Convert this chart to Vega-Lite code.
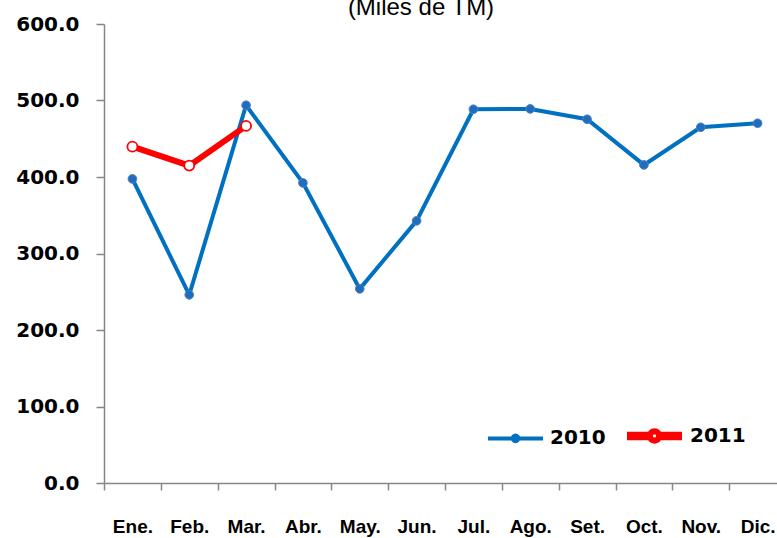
{
  "$schema": "https://vega.github.io/schema/vega-lite/v6.json",
  "width": 682,
  "height": 459,
  "autosize": {"type": "none"},
  "padding": {"left": 104, "top": 24, "right": -9, "bottom": 55},
  "background": "white",
  "title": {
    "text": "(Miles de TM)",
    "anchor": "middle",
    "frame": "group",
    "dx": -24,
    "offset": -25,
    "baseline": "alphabetic",
    "font": "Liberation Sans",
    "fontSize": 24,
    "fontWeight": "normal",
    "color": "#000000"
  },
  "config": {
    "view": {"stroke": null},
    "axis": {"grid": false, "domainColor": "#868686", "tickColor": "#868686", "domainWidth": 1.5, "tickWidth": 1.5}
  },
  "data": {
    "values": [
      {"mes": "Ene.", "anio": "2010", "valor": 397.5},
      {"mes": "Feb.", "anio": "2010", "valor": 246},
      {"mes": "Mar.", "anio": "2010", "valor": 493.8},
      {"mes": "Abr.", "anio": "2010", "valor": 392.3},
      {"mes": "May.", "anio": "2010", "valor": 253.8},
      {"mes": "Jun.", "anio": "2010", "valor": 342.7},
      {"mes": "Jul.", "anio": "2010", "valor": 488.6},
      {"mes": "Ago.", "anio": "2010", "valor": 489},
      {"mes": "Set.", "anio": "2010", "valor": 475.5},
      {"mes": "Oct.", "anio": "2010", "valor": 415.8},
      {"mes": "Nov.", "anio": "2010", "valor": 465},
      {"mes": "Dic.", "anio": "2010", "valor": 470.3},
      {"mes": "Ene.", "anio": "2011", "valor": 439.7},
      {"mes": "Feb.", "anio": "2011", "valor": 414.9},
      {"mes": "Mar.", "anio": "2011", "valor": 466.8}
    ]
  },
  "encoding": {
    "x": {
      "field": "mes",
      "type": "nominal",
      "sort": ["Ene.", "Feb.", "Mar.", "Abr.", "May.", "Jun.", "Jul.", "Ago.", "Set.", "Oct.", "Nov.", "Dic."],
      "scale": {"paddingInner": 0, "paddingOuter": 0},
      "axis": {
        "title": null,
        "labelAngle": 0,
        "tickBand": "extent",
        "tickSize": 7,
        "labelPadding": 27,
        "labelFont": "Liberation Sans",
        "labelFontSize": 19,
        "labelFontWeight": "bold",
        "labelColor": "#000000",
        "labelBaseline": "top"
      }
    },
    "y": {
      "field": "valor",
      "type": "quantitative",
      "scale": {"domain": [0, 600], "nice": false, "zero": true},
      "axis": {
        "title": null,
        "values": [0, 100, 200, 300, 400, 500, 600],
        "format": ".1f",
        "tickSize": 8,
        "labelPadding": 17,
        "labelFont": "DejaVu Sans",
        "labelFontSize": 20,
        "labelFontWeight": "bold",
        "labelColor": "#000000"
      }
    }
  },
  "layer": [
    {
      "mark": {"type": "line"},
      "encoding": {
        "color": {
          "field": "anio",
          "type": "nominal",
          "scale": {"domain": ["2010", "2011"], "range": ["#0070C0", "#FF0000"]},
          "legend": {
            "title": null,
            "orient": "none",
            "direction": "horizontal",
            "legendX": 382,
            "legendY": 381,
            "symbolSize": 3025,
            "symbolStrokeWidth": 3.5,
            "labelFont": "DejaVu Sans",
            "labelFontSize": 20,
            "labelFontWeight": "bold",
            "labelColor": "#000000",
            "labelOffset": 5,
            "columnPadding": 9,
            "gridAlign": "each",
            "encode": {
              "symbols": {
                "update": {
                  "shape": {"signal": "datum.value === '2010' ? 'M-1,0L1,0M0.1,0L0.0924,0.0383L0.0707,0.0707L0.0383,0.0924L0,0.1L-0.0383,0.0924L-0.0707,0.0707L-0.0924,0.0383L-0.1,0L-0.0924,-0.0383L-0.0707,-0.0707L-0.0383,-0.0924L0,-0.1L0.0383,-0.0924L0.0707,-0.0707L0.0924,-0.0383Z' : 'M-1,-0.045L-0.19,-0.045M-1,0L-0.19,0M-1,0.045L-0.19,0.045M0.19,-0.045L1,-0.045M0.19,0L1,0M0.19,0.045L1,0.045M0.17,0L0.1571,0.0651L0.1202,0.1202L0.0651,0.1571L0,0.17L-0.0651,0.1571L-0.1202,0.1202L-0.1571,0.0651L-0.17,0L-0.1571,-0.0651L-0.1202,-0.1202L-0.0651,-0.1571L0,-0.17L0.0651,-0.1571L0.1202,-0.1202L0.1571,-0.0651Z'"},
                  "fill": {"signal": "datum.value === '2010' ? '#1F6DBF' : '#FFFFFF'"},
                  "stroke": {"signal": "datum.value === '2010' ? '#0070C0' : '#FF0000'"},
                  "strokeWidth": {"signal": "datum.value === '2010' ? 4 : 2.5"},
                  "fillOpacity": {"value": 1},
                  "opacity": {"value": 1}
                }
              }
            }
          }
        },
        "strokeWidth": {
          "field": "anio",
          "type": "nominal",
          "scale": {"domain": ["2010", "2011"], "range": [4, 6]},
          "legend": null
        }
      }
    },
    {
      "transform": [{"filter": "datum.anio === '2010'"}],
      "mark": {"type": "point", "shape": "circle", "filled": true, "fill": "#1F6DBF", "stroke": "#4F81BD", "strokeWidth": 1, "size": 75, "opacity": 1}
    },
    {
      "transform": [{"filter": "datum.anio === '2011'"}],
      "mark": {"type": "point", "shape": "circle", "filled": true, "fill": "#FFFFFF", "stroke": "#FF0000", "strokeWidth": 1.8, "size": 100, "opacity": 1}
    }
  ]
}
